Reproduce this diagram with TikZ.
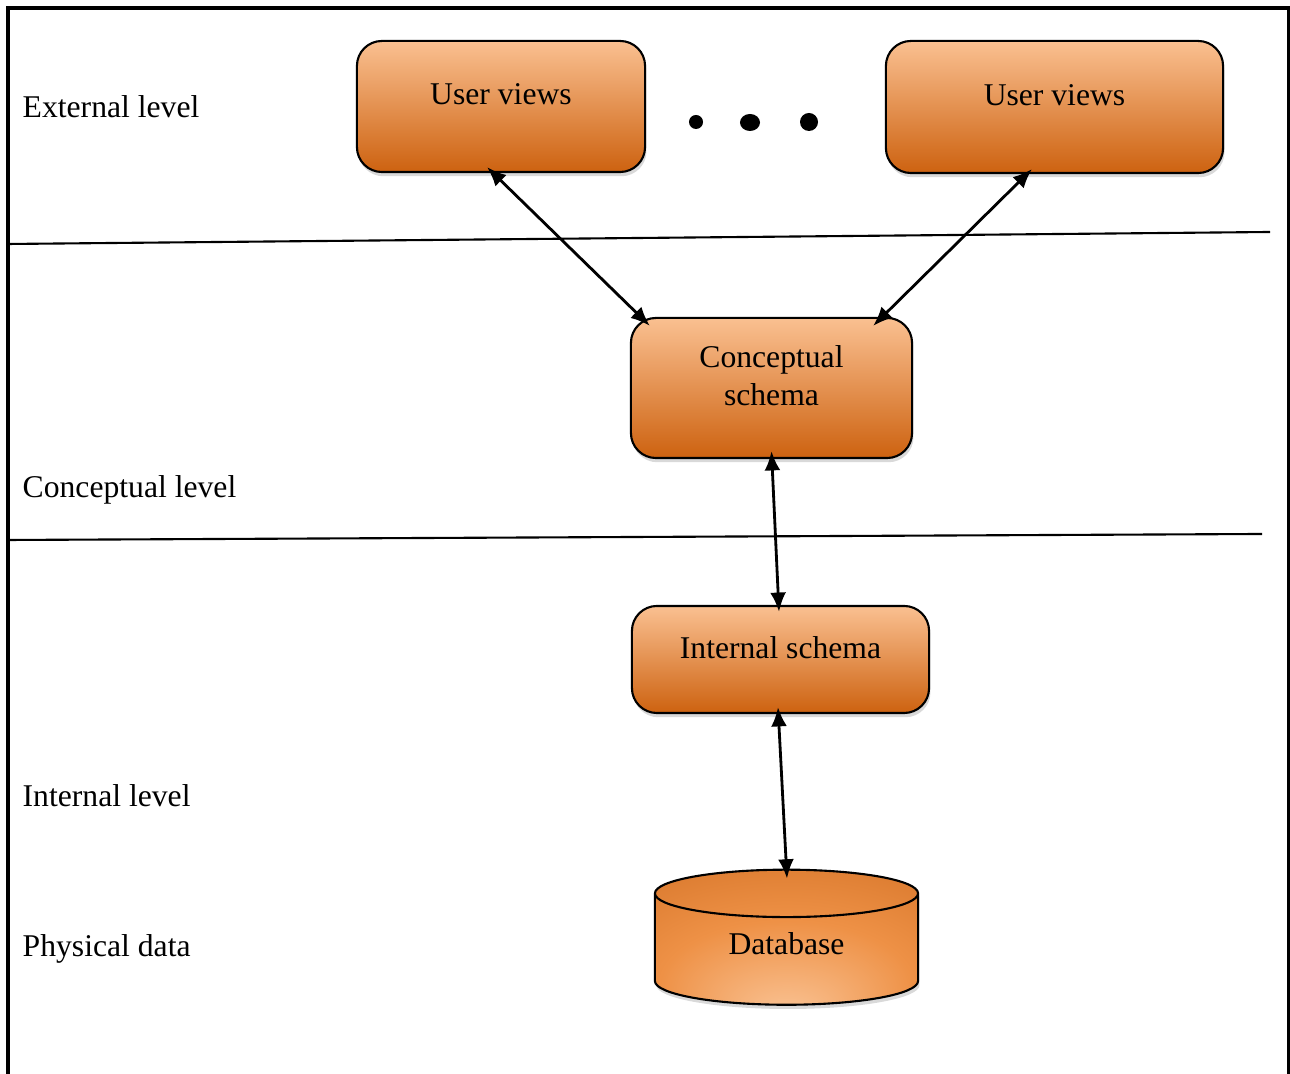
\documentclass[tikz,border=0pt]{standalone}
\usepackage{fontspec}
\setmainfont{Liberation Serif}
\usetikzlibrary{shapes.geometric,shadows,calc,arrows.meta}
\definecolor{boxtop}{RGB}{250,192,145}
\definecolor{boxmid}{RGB}{244,158,88}
\definecolor{boxbot}{RGB}{205,98,16}
\definecolor{dblight}{RGB}{250,196,150}
\definecolor{dbmid}{RGB}{238,145,70}
\definecolor{dbdark}{RGB}{198,98,22}
\pgfdeclareradialshading{dbglow}{\pgfpoint{0bp}{-30bp}}{color(0bp)=(dblight); color(24bp)=(dbmid); color(60bp)=(dbdark)}

\begin{document}
\begin{tikzpicture}[x=0.01cm, y=-0.01cm, font=\fontsize{9}{11}\selectfont,
	schema/.style={draw, line width=0.6pt, rounded corners=0.25cm, top color=boxtop, middle color=boxmid, bottom color=boxbot, align=center, text depth=7pt, drop shadow={shadow xshift=0.4pt, shadow yshift=-1.2pt, opacity=0.3}},
	database/.style={cylinder, shape border rotate=90, aspect=0.34, draw, line width=0.6pt, shading=dbglow, text depth=6pt, minimum width=2.63cm, minimum height=1.35cm, drop shadow={shadow xshift=0.4pt, shadow yshift=-1.2pt, opacity=0.3}},
	link/.style={line width=0.8pt, {Latex[length=5.5pt,width=4.5pt]}-{Latex[length=5.5pt,width=4.5pt]}}]
\useasboundingbox (0,0) rectangle (1290,1074);

% frame and level separators
\draw [line width=0.9pt] (8,1074) -- (8,8) -- (1289,8) -- (1289,1074);
\draw [line width=0.6pt] (8,244) -- (1270,232);
\draw [line width=0.6pt] (8,540) -- (1262,534);

\path (22,106.5) node[anchor=west, inner sep=0pt] (extlvl) {External level}
	(22,490) node[anchor=west, inner sep=0pt] (conclvl) {Conceptual level}
	(22,796) node[anchor=west, inner sep=0pt] (intlvl) {Internal level}
	(22,949) node[anchor=west, inner sep=0pt] (physdata) {Physical data}
	;

\path (501,106.5) node[schema, minimum width=2.88cm, minimum height=1.31cm] (uv1) {User views}
	(1054.5,107) node[schema, minimum width=3.37cm, minimum height=1.32cm] (uv2) {User views}
	(771.5,388) node[schema, minimum width=2.81cm, minimum height=1.40cm] (cs) {Conceptual\\schema}
	(780.5,659.5) node[schema, minimum width=2.97cm, minimum height=1.07cm] (is) {Internal schema}
	(786.5,954.5) node[database] (db) {Database}
	;

% dots between the user views
\fill (696,122) ellipse [x radius=0.07cm, y radius=0.07cm];
\fill (750,122.5) ellipse [x radius=0.1cm, y radius=0.085cm];
\fill (809,122) ellipse [x radius=0.09cm, y radius=0.09cm];

\draw [link] ($(uv1.south)+(-14,-6)$) -- ($(cs.north west)+(20,9)$);
\draw [link] ($(uv2.south)+(-22.5,-5)$) -- ($(cs.north east)+(-40,9)$);
\draw [link] ($(cs.south)+(0,-8)$) -- ($(is.north)+(-1.5,7)$);
\draw [link] ($(is.south)+(-2.5,-7)$) -- ($(db.north)+(0.5,10)$);
\end{tikzpicture}
\end{document}
